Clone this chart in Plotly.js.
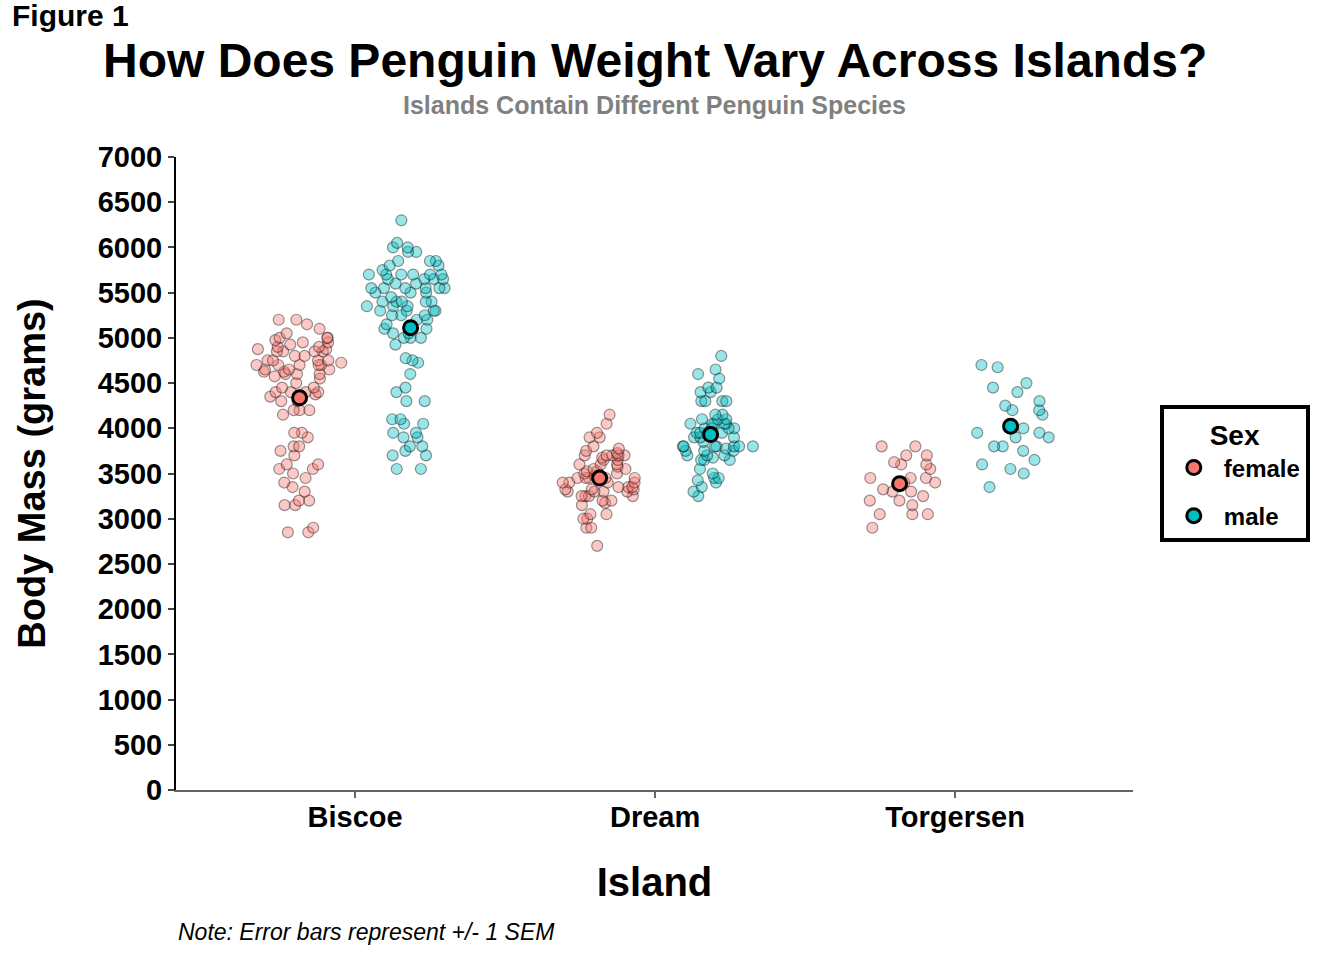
<!DOCTYPE html>
<html>
<head>
<meta charset="utf-8">
<script src="https://cdn.plot.ly/plotly-3.0.1.min.js"></script>
<style>body{margin:0;background:#fff}#chart{width:1344px;height:960px}</style>
</head>
<body>
<div id="chart"></div>
<script>
var islands = ["Biscoe", "Dream", "Torgersen"];

// body mass (g), per island and sex
var biscoe_female = [3400,3600,3800,2850,3150,3200,3500,3300,3450,3800,2900,3600,3700,3200,3150,3550,3950,3900,3750,3350,2850,3550,
    4500,4450,4550,4800,4400,4650,4650,4200,4150,4800,5000,4400,5000,4600,4700,5050,5150,4950,4350,3950,4300,4900,4200,5100,
    4850,4400,4900,4300,4450,4200,4400,4700,4700,4750,5200,4700,4600,4750,4625,4725,4750,4600,4875,4950,4750,4850,4875,4625,
    4850,4975,4700,4575,5000,4650,4375,4925,4850,5200];
var biscoe_male = [3750,3800,4400,3950,3550,4300,3900,4100,4050,3800,3900,4775,3700,4600,4100,4050,3550,4300,4450,4725,3700,3950,
    5700,5700,5400,5200,5150,5550,5850,5850,6300,5350,5700,5050,5100,5650,5550,5250,6050,5400,5250,5350,5700,4750,5550,5400,
    5300,5300,5000,5050,5000,5550,5300,5650,5700,5800,5550,5000,5100,5800,6000,5950,5450,5350,5600,5300,5550,5400,5650,5200,
    4925,5250,5600,5500,5500,5950,5500,5850,6000,5750,5400,5700,5650];
var dream_female = [3250,3900,3300,2900,3150,3550,3700,3200,3350,3050,3000,3175,3250,3300,3325,3000,3450,3500,3475,3325,3400,3050,3450,2900,3700,3300,3450,
    3500,3900,3650,3525,3725,3950,3250,3750,4150,3700,3800,3775,3700,4050,3575,3200,3350,3600,3400,3300,3700,3450,3550,3450,
    3600,3650,3400,2700,3675,3325,3600,3350,3250,3525,3400];
var dream_male = [3650,3950,3500,4300,3450,4050,3900,4150,3950,4650,3900,4400,4600,3425,4150,4300,4050,3700,3800,3750,4000,3800,3700,4050,3675,4000,3950,3350,
    3950,3800,3800,3550,4450,3650,4550,3300,4400,3250,3950,4000,3800,4100,3400,4300,4450,4800,3700,3650,4000,4050,3800,3750,
    4300,3750,3850,3800,4100,3775,4100,3900,3450,4050];
var torgersen_female = [3800,3250,3450,3625,3200,3700,3450,3325,3400,3800,3050,3600,2900,3550,3300,3050,3700,3200,3050,3450,3400,3300,3600,3150];
var torgersen_male = [3750,3650,4675,3800,4400,4500,4200,3600,3950,3800,3550,3950,4300,4450,4150,4250,3900,4000,4700,4200,3500,3350,3900];

var female = [biscoe_female, dream_female, torgersen_female];
var male = [biscoe_male, dream_male, torgersen_male];

var colors = { female: "#F8766D", male: "#00BFC4" };
var fills = { female: "rgba(248,118,109,0.4)", male: "rgba(0,191,196,0.4)" };

function mean(a) { return a.reduce((s, v) => s + v, 0) / a.length; }
function sem(a) {
    let m = mean(a);
    let sd = Math.sqrt(a.reduce((s, v) => s + (v - m) ** 2, 0) / (a.length - 1));
    return sd / Math.sqrt(a.length);
}

var data = [];
var offset = 0.185;

[["female", female], ["male", male]].forEach(function (g) {
    var name = g[0], groups = g[1];
    var xs = [], ys = [];
    groups.forEach(function (vals, i) {
        vals.forEach(function (v) { xs.push(i); ys.push(v); });
    });
    // jittered raw points
    data.push({
        type: "box", name: name, x: xs, y: ys, showlegend: false,
        boxpoints: "all", jitter: 0.8, pointpos: 0,
        fillcolor: "rgba(0,0,0,0)", line: { color: "rgba(0,0,0,0)", width: 0 },
        marker: { size: 11, color: fills[name], line: { color: "rgba(0,0,0,0.4)", width: 1.2 } },
        hoveron: "points"
    });
});

[["female", female, -offset], ["male", male, offset]].forEach(function (g) {
    var name = g[0], groups = g[1], off = g[2];
    data.push({
        type: "scatter", mode: "markers", name: name, legendgroup: name,
        x: groups.map((v, i) => i + off),
        y: groups.map(mean),
        error_y: { type: "data", array: groups.map(sem), color: "black", thickness: 2.5, width: 0 },
        marker: { size: 14, color: colors[name], line: { color: "black", width: 3 } }
    });
});

var layout = {
    width: 1344, height: 960,
    paper_bgcolor: "white", plot_bgcolor: "white",
    margin: { l: 176, r: 211, t: 157, b: 170 },
    font: { family: "Liberation Sans, Arial, sans-serif", color: "black" },
    boxmode: "group", boxgap: 0.26, boxgroupgap: 0,
    xaxis: {
        range: [-0.597, 2.593], tickvals: [0, 1, 2], ticktext: islands,
        showgrid: false, zeroline: false, showline: true, linecolor: "#666", linewidth: 2,
        ticks: "outside", ticklen: 6, tickcolor: "#666", tickwidth: 2,
        tickfont: { size: 29, weight: "bold" }, ticklabelstandoff: -6,
        title: { text: "Island", font: { size: 40, weight: "bold" }, standoff: 36 }
    },
    yaxis: {
        range: [0, 7000], dtick: 500, showgrid: false, zeroline: false,
        showline: true, linecolor: "black", linewidth: 2,
        ticks: "outside", ticklen: 6, tickwidth: 2,
        tickfont: { size: 29, weight: "bold" },
        title: { text: "Body Mass (grams)", font: { size: 38, weight: "bold" }, standoff: 40 }
    },
    showlegend: true,
    legend: {
        x: 1.028, xanchor: "left", y: 0.5, yanchor: "middle",
        bordercolor: "black", borderwidth: 4,
        title: { text: "Sex", font: { size: 28, weight: "bold" }, side: "top center" },
        font: { size: 24, weight: "bold" }, itemwidth: 50, tracegroupgap: 14
    },
    annotations: [
        { text: "Figure 1", xref: "paper", yref: "paper", x: -0.173, y: 1.224, xanchor: "left", yanchor: "middle", showarrow: false, font: { size: 30, weight: "bold" } },
        { text: "How Does Penguin Weight Vary Across Islands?", xref: "paper", yref: "paper", x: 0.5, y: 1.153, xanchor: "center", yanchor: "middle", showarrow: false, font: { size: 48, weight: "bold" } },
        { text: "Islands Contain Different Penguin Species", xref: "paper", yref: "paper", x: 0.5, y: 1.082, xanchor: "center", yanchor: "middle", showarrow: false, font: { size: 25, weight: "bold", color: "#808080" } },
        { text: "<i>Note: Error bars represent +/- 1 SEM</i>", xref: "paper", yref: "paper", x: 0, y: -0.225, xanchor: "left", yanchor: "middle", showarrow: false, font: { size: 23 } }
    ]
};

Plotly.newPlot("chart", data, layout, { displayModeBar: false });
</script>
</body>
</html>
